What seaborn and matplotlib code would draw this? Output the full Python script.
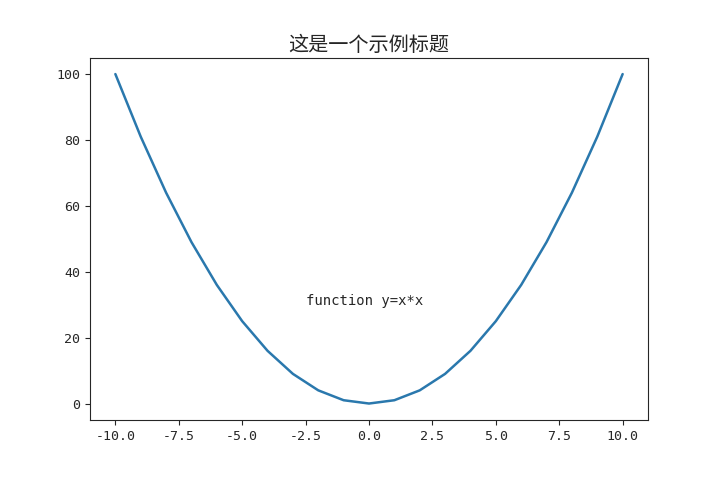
import matplotlib
matplotlib.use("Agg")
import matplotlib.pyplot as plt
import numpy as np
import pandas as pd
import seaborn as sns

# data: y = x*x sampled at integer x
x_vals = [-10, -9, -8, -7, -6, -5, -4, -3, -2, -1, 0, 1, 2, 3, 4, 5, 6, 7, 8, 9, 10]
y_vals = [100, 81, 64, 49, 36, 25, 16, 9, 4, 1, 0, 1, 4, 9, 16, 25, 36, 49, 64, 81, 100]

sns.set_style("ticks")
plt.rcParams["font.family"] = ["Noto Sans CJK SC", "DejaVu Sans"]
plt.rcParams["axes.unicode_minus"] = False

df = pd.DataFrame({"x": x_vals, "y": y_vals})

fig, ax = plt.subplots(figsize=(7.2, 4.8), dpi=100)
fig.subplots_adjust(left=0.125, right=0.9, top=0.88, bottom=0.125)
sns.lineplot(data=df, x="x", y="y", ax=ax, color="#2a78ad", linewidth=1.8)
ax.set_xlabel("")
ax.set_ylabel("")
ax.set_title("这是一个示例标题", fontsize=14.5, pad=5)
ax.text(-2.5, 30, "function y=x*x", fontsize=10, family="DejaVu Sans Mono")
for lab in ax.get_xticklabels() + ax.get_yticklabels():
    lab.set_family("DejaVu Sans Mono")
    lab.set_fontsize(9.5)
for side in ["top", "right"]:
    ax.spines[side].set_visible(True)

fig.savefig("out.png", dpi=100)
